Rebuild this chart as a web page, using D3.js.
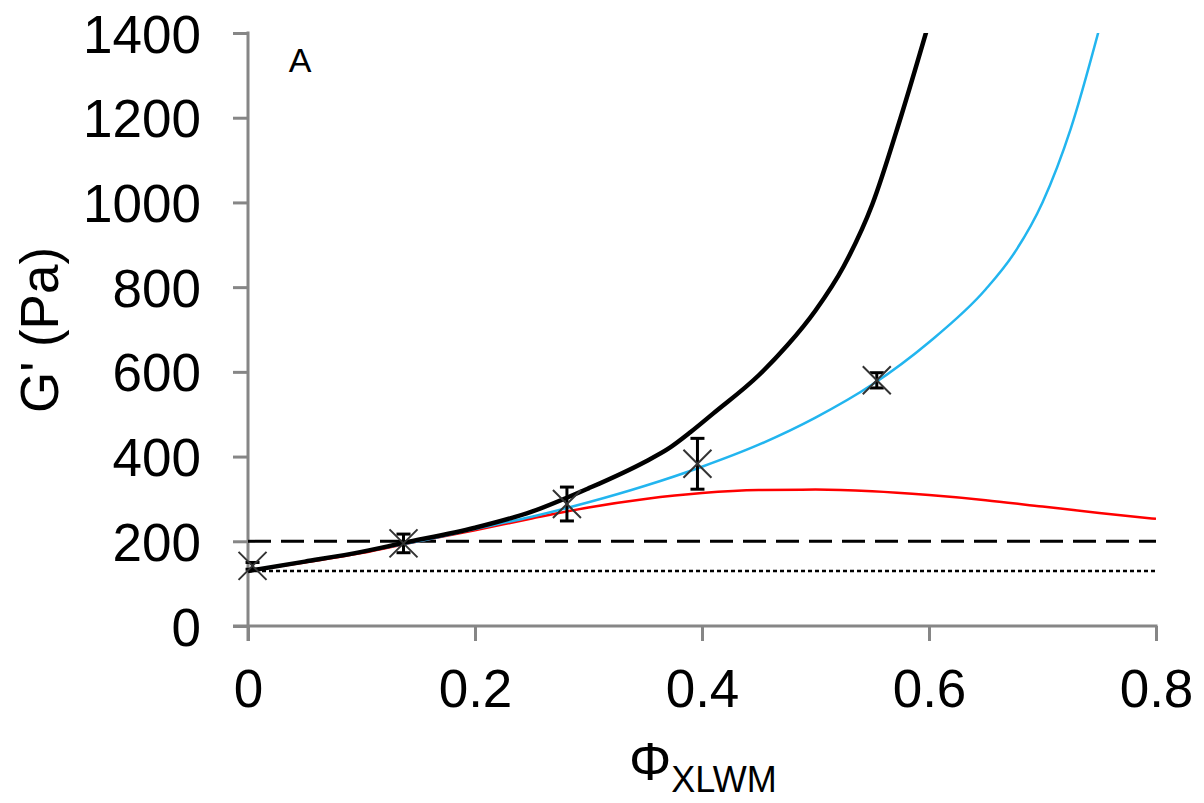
<!DOCTYPE html>
<html>
<head>
<meta charset="utf-8">
<title>G' vs Phi XLWM</title>
<script src="https://d3js.org/d3.v7.min.js"></script>
<style>
  body { margin: 0; background: #fff; }
  text { font-family: "Liberation Sans", Arial, sans-serif; fill: #000; }
</style>
</head>
<body>
<div id="chart"></div>
<script>
// data
const xTicks = [0, 0.2, 0.4, 0.6, 0.8];
const yTicks = [0, 200, 400, 600, 800, 1000, 1200, 1400];

const pointX = [0.004, 0.137, 0.281, 0.396, 0.554];
const pointY = [142, 195, 288, 383, 580];
const pointErr = [8, 22, 40, 60, 18];

const blackX = [0, 0.05, 0.1, 0.135, 0.2, 0.25, 0.3, 0.35, 0.37, 0.39, 0.41, 0.45, 0.475, 0.5, 0.525, 0.55, 0.575, 0.6];
const blackY = [130, 152, 175, 195, 232, 270, 325, 388, 418, 458, 502, 592, 662, 745, 850, 995, 1200, 1425];

const blueX = [0, 0.05, 0.1, 0.15, 0.2, 0.25, 0.3, 0.35, 0.4, 0.45, 0.5, 0.55, 0.6, 0.65, 0.675, 0.7, 0.725, 0.75];
const blueY = [130, 152, 175, 200, 229, 258, 292, 331, 376, 428, 492, 570, 670, 795, 880, 1000, 1175, 1410];

const redX = [0, 0.05, 0.1, 0.15, 0.2, 0.25, 0.3, 0.35, 0.4, 0.45, 0.5, 0.55, 0.6, 0.65, 0.7, 0.75, 0.8];
const redY = [130, 150, 172, 200, 226, 254, 280, 300, 314, 321, 322, 318, 309, 297, 282, 267, 253];

const dashedLevel = 200;
const dottedLevel = 130;

const width = 1204, height = 803;
const plotLeft = 248, plotRight = 1156, plotTop = 33, plotBottom = 626;

const svg = d3.select('#chart').append('svg')
  .attr('width', width)
  .attr('height', height);

const x = d3.scaleLinear().domain([0, 0.8]).range([plotLeft, plotRight]);
const y = d3.scaleLinear().domain([0, 1400]).range([plotBottom, plotTop]);

svg.append('clipPath').attr('id', 'plot')
  .append('rect')
  .attr('x', plotLeft).attr('y', plotTop)
  .attr('width', plotRight - plotLeft).attr('height', plotBottom - plotTop);

// axes
const axisColor = '#868686';
const xAxis = svg.append('g')
  .attr('transform', `translate(0,${plotBottom})`)
  .call(d3.axisBottom(x).tickValues(xTicks).tickSize(15).tickPadding(28)
    .tickFormat(d => d === 0 ? '0' : d3.format('.1f')(d)));
const yAxis = svg.append('g')
  .attr('transform', `translate(${plotLeft},0)`)
  .call(d3.axisLeft(y).tickValues(yTicks).tickSize(15).tickPadding(32)
    .tickFormat(d3.format('d')));

[xAxis, yAxis].forEach(g => {
  g.select('.domain').remove();
  g.selectAll('line').attr('stroke', axisColor).attr('stroke-width', 3);
  g.selectAll('text').style('font-size', '53px').attr('fill', '#000');
});
yAxis.selectAll('text').attr('dy', '0.36em');
xAxis.selectAll('text').attr('dy', '0.71em');

svg.append('line')
  .attr('x1', plotLeft - 15).attr('x2', plotRight + 1.5)
  .attr('y1', plotBottom).attr('y2', plotBottom)
  .attr('stroke', axisColor).attr('stroke-width', 3);
svg.append('line')
  .attr('x1', plotLeft).attr('x2', plotLeft)
  .attr('y1', plotTop - 1.5).attr('y2', plotBottom + 15)
  .attr('stroke', axisColor).attr('stroke-width', 3);

// reference levels
svg.append('line')
  .attr('x1', plotLeft).attr('x2', plotRight)
  .attr('y1', y(dashedLevel)).attr('y2', y(dashedLevel))
  .attr('stroke', '#000').attr('stroke-width', 3)
  .attr('stroke-dasharray', '23,10');
svg.append('line')
  .attr('x1', plotLeft).attr('x2', plotRight)
  .attr('y1', y(dottedLevel)).attr('y2', y(dottedLevel))
  .attr('stroke', '#000').attr('stroke-width', 2.5)
  .attr('stroke-dasharray', '4,3');

// model curves
const line = d3.line()
  .x(d => x(d[0]))
  .y(d => y(d[1]))
  .curve(d3.curveMonotoneX);

const curves = svg.append('g').attr('clip-path', 'url(#plot)');
curves.append('path')
  .attr('d', line(d3.zip(redX, redY)))
  .attr('fill', 'none').attr('stroke', '#ff0000').attr('stroke-width', 2.5);
curves.append('path')
  .attr('d', line(d3.zip(blueX, blueY)))
  .attr('fill', 'none').attr('stroke', '#22b5ef').attr('stroke-width', 2.5);
curves.append('path')
  .attr('d', line(d3.zip(blackX, blackY)))
  .attr('fill', 'none').attr('stroke', '#000').attr('stroke-width', 4.5);

// measured points with error bars
const pts = svg.append('g');
pointX.forEach((px, i) => {
  const cx = x(px), cy = y(pointY[i]);
  const y0 = y(pointY[i] - pointErr[i]), y1 = y(pointY[i] + pointErr[i]);
  pts.append('line')
    .attr('x1', cx).attr('x2', cx).attr('y1', y0).attr('y2', y1)
    .attr('stroke', '#000').attr('stroke-width', 3);
  [y0, y1].forEach(yy => pts.append('line')
    .attr('x1', cx - 7).attr('x2', cx + 7).attr('y1', yy).attr('y2', yy)
    .attr('stroke', '#000').attr('stroke-width', 3));
  const s = 14;
  pts.append('path')
    .attr('d', `M${cx - s},${cy - s}L${cx + s},${cy + s}M${cx - s},${cy + s}L${cx + s},${cy - s}`)
    .attr('stroke', '#333').attr('stroke-width', 2).attr('fill', 'none');
});

// labels
svg.append('text')
  .attr('x', 300).attr('y', 72)
  .attr('text-anchor', 'middle')
  .style('font-size', '34px')
  .text('A');

svg.append('text')
  .attr('transform', 'translate(58,330) rotate(-90)')
  .attr('text-anchor', 'middle')
  .style('font-size', '53px')
  .text("G' (Pa)");

const xt = svg.append('text')
  .attr('x', 629).attr('y', 780);
xt.append('tspan').style('font-size', '53px').text('Φ');
xt.append('tspan').attr('dy', 12).style('font-size', '36px').text('XLWM');
</script>
</body>
</html>
